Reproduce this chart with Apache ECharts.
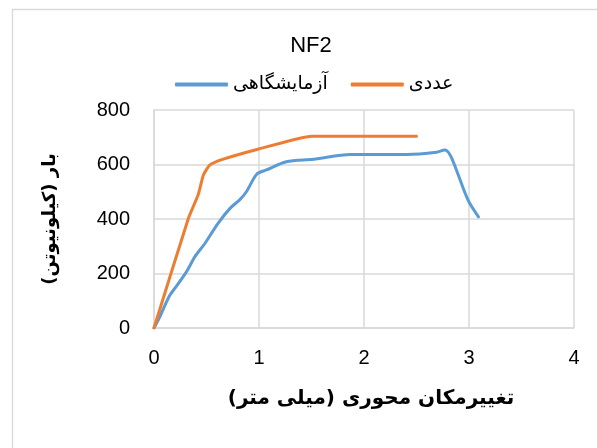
<!DOCTYPE html>
<html>
<head>
<meta charset="utf-8">
<script src="https://cdn.jsdelivr.net/npm/echarts@6/dist/echarts.min.js"></script>
<style>html,body{margin:0;padding:0;background:#fff}#c{width:597px;height:448px}</style>
</head>
<body>
<div id="c"></div>
<script>
var chartTitle = 'NF2';
var seriesNames = ['آزمایشگاهی', 'عددی'];
var xAxisTitle = 'تغییرمکان محوری (میلی متر)';
var yAxisTitle = 'بار (کیلونیوتن)';

var expX = [0, 0.06, 0.105, 0.152, 0.2, 0.31, 0.39, 0.486, 0.61, 0.724, 0.82, 0.88, 0.98, 1.07, 1.26, 1.52, 1.87, 2.41, 2.69, 2.77, 2.82, 2.88, 2.99, 3.09];
var expY = [0, 45, 84, 121, 146, 207, 262, 311, 384, 439, 472, 500, 565, 580, 610, 619, 637, 637, 645, 653, 635, 580, 470, 408];

var numX = [0, 0.327, 0.42, 0.47, 0.53, 0.63, 0.99, 1.50, 2.50];
var numY = [0, 402, 488, 561, 598, 616, 656, 704, 704];

function pairs(xs, ys) { return xs.map(function (x, i) { return [x, ys[i]]; }); }
function rtl(s) { return '\u200F' + s + '\u200F'; }

var chart = echarts.init(document.getElementById('c'));
var grid = '#d9d9d9';
chart.setOption({
  animation: false,
  backgroundColor: '#fff',
  graphic: [{
    type: 'rect', left: 10, top: 7, shape: { width: 620, height: 480 },
    style: { fill: 'none', stroke: '#d9d9d9', lineWidth: 1.3 }, silent: true, z: -1
  }],
  title: {
    text: chartTitle, left: 306, top: 30, textAlign: 'center',
    textStyle: { fontFamily: 'Liberation Sans', fontSize: 22, fontWeight: 'normal', color: '#000' }
  },
  legend: {
    left: 170, top: 70,
    data: seriesNames,
    formatter: function (n) { return rtl(n); },
    itemWidth: 53, itemHeight: 4, itemGap: 23, icon: 'roundRect',
    textStyle: { fontFamily: 'DejaVu Sans', fontSize: 19, color: '#000' }
  },
  grid: { left: 154, right: 23, top: 110, bottom: 120, containLabel: false },
  xAxis: {
    type: 'value', min: 0, max: 4, interval: 1,
    name: rtl(xAxisTitle), nameLocation: 'middle', nameGap: 61,
    nameTextStyle: { fontFamily: 'DejaVu Sans', fontWeight: 'bold', fontSize: 20, color: '#000', padding: [0, 0, 0, 14] },
    axisLine: { show: true, lineStyle: { color: grid, width: 1.5 } },
    axisTick: { show: false },
    axisLabel: { margin: 20, fontFamily: 'Liberation Sans', fontSize: 20, color: '#000' },
    splitLine: { show: true, lineStyle: { color: grid, width: 1.5 } }
  },
  yAxis: {
    type: 'value', min: 0, max: 800, interval: 200,
    name: rtl(yAxisTitle), nameLocation: 'middle', nameGap: 95, nameRotate: 90,
    nameTextStyle: { fontFamily: 'DejaVu Sans', fontWeight: 'bold', fontSize: 18, color: '#000' },
    axisLine: { show: true, lineStyle: { color: grid, width: 1.5 } },
    axisTick: { show: false },
    axisLabel: { margin: 24, fontFamily: 'Liberation Sans', fontSize: 20, color: '#000' },
    splitLine: { show: true, lineStyle: { color: grid, width: 1.5 } }
  },
  series: [{
    name: seriesNames[0], type: 'line', data: pairs(expX, expY),
    smooth: 0.3, showSymbol: false, symbol: 'none',
    lineStyle: { color: '#5B9BD5', width: 3, cap: 'round' },
    itemStyle: { color: '#5B9BD5' }
  }, {
    name: seriesNames[1], type: 'line', data: pairs(numX, numY),
    smooth: 0.15, showSymbol: false, symbol: 'none',
    lineStyle: { color: '#ED7D31', width: 3, cap: 'round' },
    itemStyle: { color: '#ED7D31' }
  }]
});
</script>
</body>
</html>
